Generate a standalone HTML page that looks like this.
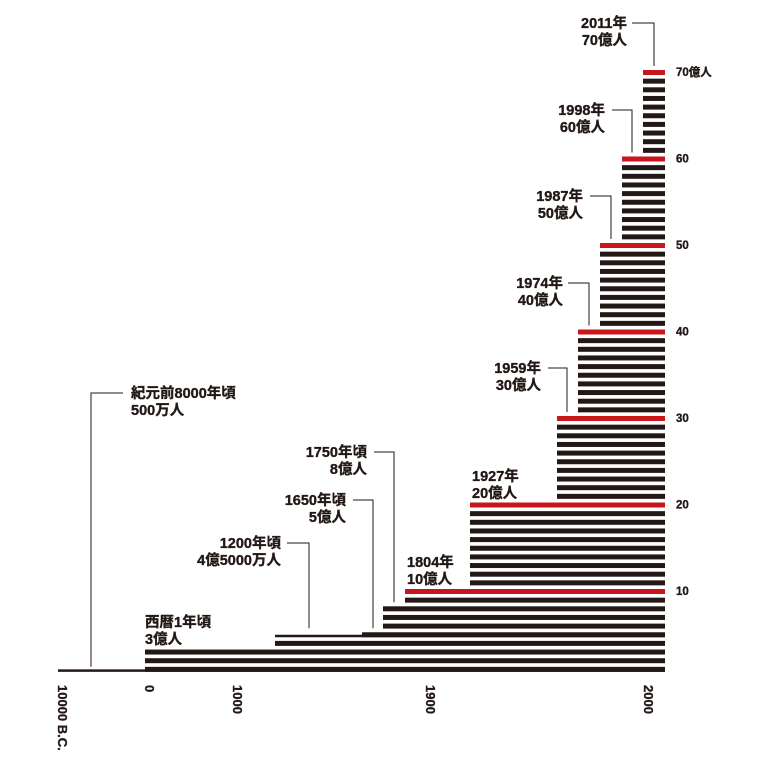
<!DOCTYPE html>
<html><head><meta charset="utf-8"><style>
html,body{margin:0;padding:0;background:#fff;}
svg{display:block;font-family:"Liberation Sans","Noto Sans CJK JP",sans-serif;font-weight:bold;}
svg text{stroke:#231815;stroke-width:0.35;}
</style></head><body>
<svg id="chart" width="763" height="763" viewBox="0 0 763 763" xmlns="http://www.w3.org/2000/svg"></svg>
<script>
// milestone data
const milestoneYears = [-8000, 1, 1200, 1650, 1750, 1804, 1927, 1959, 1974, 1987, 1998, 2011];
const milestonePops = [0.05, 3, 4.5, 5, 8, 10, 20, 30, 40, 50, 60, 70];
const labelLine1 = ["紀元前8000年頃","西暦1年頃","1200年頃","1650年頃","1750年頃","1804年","1927年","1959年","1974年","1987年","1998年","2011年"];
const labelLine2 = ["500万人","3億人","4億5000万人","5億人","8億人","10億人","20億人","30億人","40億人","50億人","60億人","70億人"];
const tickLabels = ["10000 B.C.","0","1000","1900","2000"];
const yTickValues = [10,20,30,40,50,60,70];

// axis definition (stylized, piecewise)
const knotYears = [-8000, 1, 1000, 1200, 1650, 1750, 1804, 1927, 1959, 1974, 1987, 1998, 2011];
const knotPx    = [58, 145, 237, 275, 362, 383, 405, 470, 557, 578, 600, 622, 643];
const tickPx = [62, 149, 237, 430, 648];
const xEnd = 665, baseY = 675.5, pitch = 8.65, stripeH = 5;

function xScale(yr){
  if (yr <= knotYears[0]) return knotPx[0];
  for (let i=1;i<knotYears.length;i++){
    if (yr <= knotYears[i]){
      const t=(yr-knotYears[i-1])/(knotYears[i]-knotYears[i-1]);
      return knotPx[i-1]+t*(knotPx[i]-knotPx[i-1]);
    }
  }
  return knotPx[knotPx.length-1];
}
function yTop(level){ return baseY - level*pitch; }

const svg=document.getElementById('chart');
const NS='http://www.w3.org/2000/svg';
function mk(tag,attrs){const e=document.createElementNS(NS,tag);for(const k in attrs)e.setAttribute(k,attrs[k]);svg.appendChild(e);return e;}

milestonePops.forEach((p,i)=>{
  if (p!==Math.floor(p)){
    const r=mk('rect',{x:xScale(milestoneYears[i]),y:yTop(Math.ceil(p))+2.5,width:xEnd-xScale(milestoneYears[i]),height:2.5,fill:'#231815'});
    
    
  }
});
const maxLevel=Math.floor(Math.max(...milestonePops));
for(let k=1;k<=maxLevel;k++){
  let idx=milestonePops.findIndex(p=>p>=k);
  const x=xScale(milestoneYears[idx]);
  const r=mk('rect',{x:x,y:yTop(k),width:xEnd-x,height:stripeH,fill:(k%10===0)?'#c8161d':'#231815'});
  
  
}
yTickValues.forEach(v=>{
  const t=mk('text',{x:676,y:yTop(v)+6,'font-size':11.5,fill:'#231815'});
  t.textContent = v===70 ? '70億人' : String(v);
  
  
});
tickLabels.forEach((s,i)=>{
  const t=mk('text',{x:0,y:0,'font-size':13,fill:'#231815',transform:`translate(${tickPx[i]-4},685) rotate(90)`});
  t.textContent=s;
  
  
});
// annotations: [textX, line1Y, anchor, leaderOffset or null, hookStartX]
const annLayout = [
  [131,393,'start',33,123],
  [145,622,'start',null,0],
  [281,543,'end',34,287],
  [346,500,'end',11,353],
  [367,452,'end',11,374],
  [407,562,'start',null,0],
  [472,476,'start',null,0],
  [541,368,'end',10,548],
  [563,283,'end',11,568],
  [583,196,'end',11,590],
  [605,110,'end',10,612],
  [627,23,'end',11,632]
];
milestoneYears.forEach((yr,i)=>{
  const a=annLayout[i];
  const t1=mk('text',{x:a[0],y:a[1]+5,'font-size':14.5,fill:'#231815','text-anchor':a[2]});
  t1.textContent=labelLine1[i];
  
  
  const t2=mk('text',{x:a[0],y:a[1]+22,'font-size':14.5,fill:'#231815','text-anchor':a[2]});
  t2.textContent=labelLine2[i];
  
  
  if(a[3]!==null){
    const lx=xScale(yr)+a[3];
    const ly=a[1];
    const p=milestonePops[i];
    const bottom=yTop(Math.ceil(p))-(p<1?0:4);
    const pl=mk('polyline',{points:`${a[4]},${ly} ${lx},${ly} ${lx},${bottom}`,fill:'none',stroke:'#231815','stroke-width':1});
    
    
  }
});
</script>
</body></html>
